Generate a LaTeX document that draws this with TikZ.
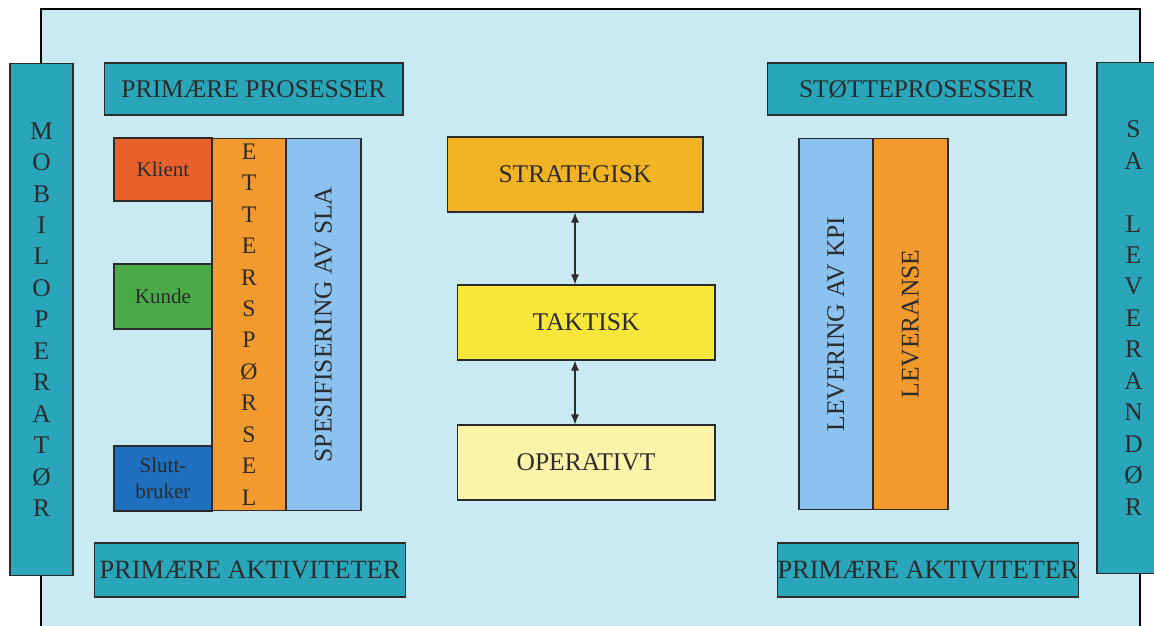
\documentclass[tikz,border=0pt]{standalone}
\usepackage{xcolor}
\usepackage{fontspec}
\setmainfont{Liberation Serif}
\usepackage{tikz}
\usetikzlibrary{shapes,arrows,arrows.meta,positioning,calc}

\definecolor{bgblue}{HTML}{C9EAF3}
\definecolor{teal}{HTML}{2AA6BA}
\definecolor{klientred}{HTML}{E8602C}
\definecolor{kundegreen}{HTML}{4AAA48}
\definecolor{sluttblue}{HTML}{1F6FBF}
\definecolor{barorange}{HTML}{F39A2E}
\definecolor{barblue}{HTML}{8CC2F0}
\definecolor{stratcol}{HTML}{F2B325}
\definecolor{taktcol}{HTML}{F8E73A}
\definecolor{opercol}{HTML}{FAF3A8}
\definecolor{ink}{HTML}{2B2B2B}

\begin{document}
\begin{tikzpicture}[x=0.02cm, y=-0.02cm,
    box/.style={rectangle, draw=ink, line width=0.6pt, inner sep=0pt, text=ink, align=center, font=\fontsize{14.5}{16}\selectfont},
    tealbox/.style={box, fill=teal},
    letters/.style={box, fill=teal, font=\fontsize{14.5}{17.9}\selectfont},
    small/.style={box, font=\fontsize{12}{14.7}\selectfont},
    >={Latex[length=2mm,width=1.6mm]}]
        \useasboundingbox (0,0) rectangle (1154,626);

        % Background
        \fill[bgblue] (41,9) rectangle (1140,640);
        \draw[black, line width=0.8pt] (41,640) -- (41,9) -- (1140,9) -- (1140,640);

        % Side bars
        \node (mobil) [letters, minimum width=1.26cm, minimum height=10.26cm] at (41.5,319.5) {M\\O\\B\\I\\L\\O\\P\\E\\R\\A\\T\\Ø\\R};
        \node (leverandor) [letters, minimum width=1.46cm, minimum height=10.24cm] at (1133.5,318) {S\\A\\~\\L\\E\\V\\E\\R\\A\\N\\D\\Ø\\R};

        % Headers
        \node (primproc) [tealbox, minimum width=5.98cm, minimum height=1.04cm] at (253.5,89) {PRIMÆRE PROSESSER};
        \node (stotte) [tealbox, minimum width=5.98cm, minimum height=1.04cm] at (916.5,89) {STØTTEPROSESSER};
        \node (primaktL) [tealbox, minimum width=6.24cm, minimum height=1.08cm, font=\fontsize{15}{16}\selectfont] at (250,570) {PRIMÆRE AKTIVITETER};
        \node (primaktR) [tealbox, minimum width=6cm, minimum height=1.08cm, font=\fontsize{15}{16}\selectfont] at (928,570) {PRIMÆRE AKTIVITETER};

        % Primary processes
        \node (klient) [small, fill=klientred, minimum width=1.96cm, minimum height=1.26cm] at (163,169.5) {Klient};
        \node (kunde) [small, fill=kundegreen, minimum width=1.96cm, minimum height=1.3cm] at (163,296.5) {Kunde};
        \node (slutt) [small, fill=sluttblue, minimum width=1.96cm, minimum height=1.3cm] at (163,478.5) {Slutt-\\bruker};
        \node (etter) [box, fill=barorange, minimum width=1.48cm, minimum height=7.46cm, font=\fontsize{13.5}{17.9}\selectfont] at (249,324.5) {E\\T\\T\\E\\R\\S\\P\\Ø\\R\\S\\E\\L};
        \node (spes) [box, fill=barblue, minimum width=1.5cm, minimum height=7.46cm] at (323.5,324.5) {};
        \node [rotate=90, text=ink, font=\fontsize{14.5}{16}\selectfont] at (spes.center) {SPESIFISERING AV SLA};

        % Levels
        \node (strat) [box, fill=stratcol, minimum width=5.12cm, minimum height=1.5cm] at (575,174.5) {STRATEGISK};
        \node (takt) [box, fill=taktcol, minimum width=5.16cm, minimum height=1.5cm] at (586,322.5) {TAKTISK};
        \node (oper) [box, fill=opercol, minimum width=5.16cm, minimum height=1.5cm] at (586,462.5) {OPERATIVT};
        \draw[<->, ink, line width=0.7pt] (strat.south) -- (strat.south |- takt.north);
        \draw[<->, ink, line width=0.7pt] (takt.south -| strat.south) -- (oper.north -| strat.south);

        % Support processes
        \node (kpi) [box, fill=barblue, minimum width=1.48cm, minimum height=7.44cm] at (836,324) {};
        \node [rotate=90, text=ink, font=\fontsize{14.5}{16}\selectfont] at (kpi.center) {LEVERING AV KPI};
        \node (leveranse) [box, fill=barorange, minimum width=1.5cm, minimum height=7.44cm] at (910.5,324) {};
        \node [rotate=90, text=ink, font=\fontsize{14.5}{16}\selectfont] at (leveranse.center) {LEVERANSE};
    \end{tikzpicture}
\end{document}
